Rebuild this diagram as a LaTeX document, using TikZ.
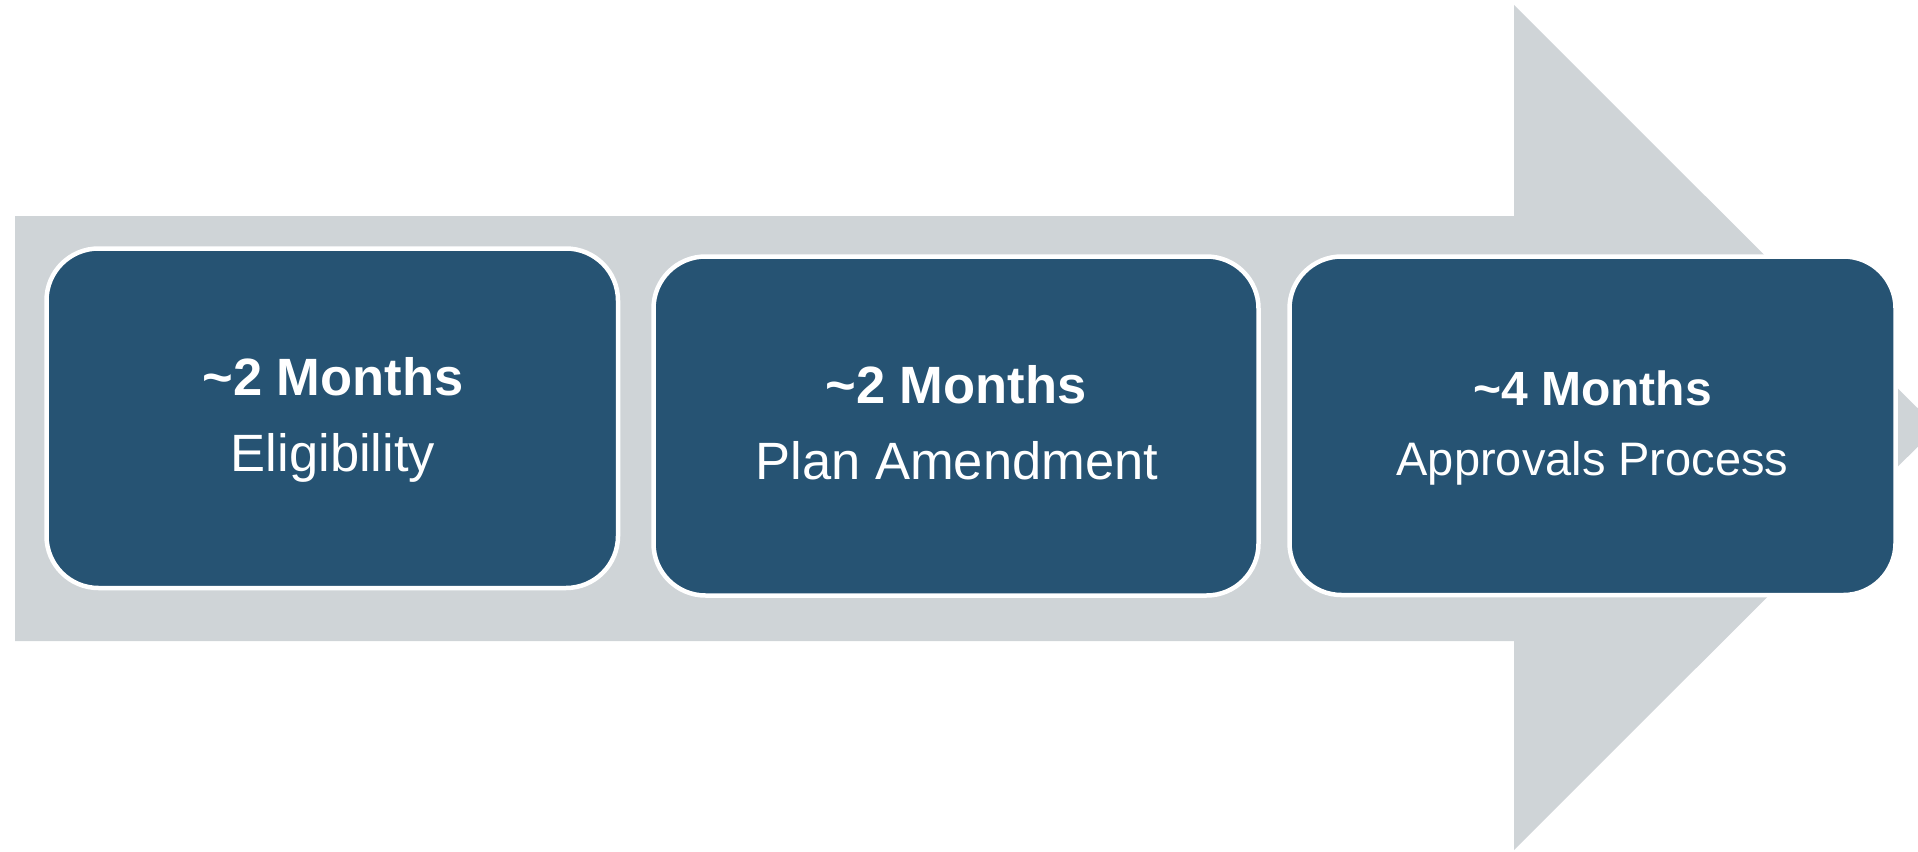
\documentclass[tikz,border=0pt]{standalone}
\usepackage{fontspec}
\setmainfont{Liberation Sans}
\definecolor{arrowgray}{RGB}{207,212,215}
\definecolor{boxblue}{RGB}{38,83,115}
\tikzset{
  stepbox/.style={draw=white, line width=4.5pt, fill=boxblue, rounded corners=52pt, inner sep=0pt, outer sep=0pt},
  headtext/.style={text=white, anchor=base, inner sep=0pt, font=\fontsize{52.5}{60}\selectfont\bfseries},
  subtext/.style={text=white, anchor=base, inner sep=0pt, font=\fontsize{52.5}{60}\selectfont},
}
\begin{document}
\begin{tikzpicture}[x=1pt, y=-1pt]
\useasboundingbox (0,0) rectangle (1918,851);
\clip (0,0) rectangle (1918,851);
% big background arrow
\fill[arrowgray] (15,216) -- (1514,216) -- (1514,5) -- (1937,427.5) -- (1514,850) -- (1514,641) -- (15,641) -- cycle;
% boxes
\node[stepbox, minimum width=571.5pt, minimum height=339.5pt] (b1) at (332.25,418.25) {};
\node[stepbox, minimum width=605pt, minimum height=339pt] (b2) at (956,426) {};
\node[stepbox, minimum width=606pt, minimum height=338.5pt] (b3) at (1592.5,425.75) {};
% texts
\node[headtext] (h1) at (333,395) {\textasciitilde 2 Months};
\node[subtext] (s1) at (333,471) {Eligibility};
\node[headtext] (h2) at (956,403) {\textasciitilde 2 Months};
\node[subtext] (s2) at (957,479) {Plan Amendment};
\node[headtext, font=\fontsize{48}{56}\selectfont\bfseries] (h3) at (1592.5,405.5) {\textasciitilde 4 Months};
\node[subtext, font=\fontsize{47}{56}\selectfont] (s3) at (1592.5,475) {Approvals Process};
\end{tikzpicture}
\end{document}
